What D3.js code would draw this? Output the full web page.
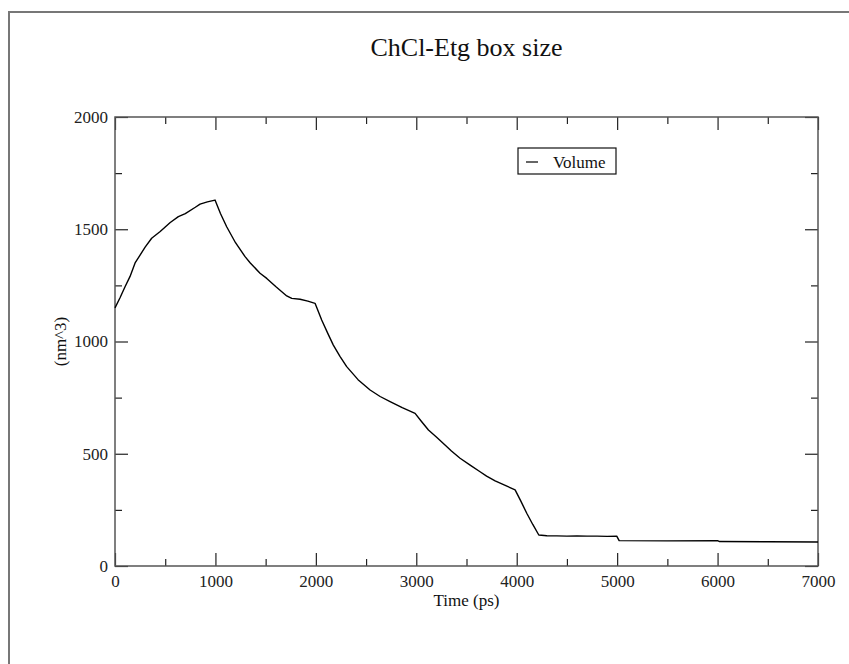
<!DOCTYPE html>
<html>
<head>
<meta charset="utf-8">
<script src="https://cdn.jsdelivr.net/npm/d3@7"></script>
<style>
  body { margin: 0; background: #fff; overflow: hidden; }
  svg { display: block; font-family: "Liberation Serif", "Times New Roman", serif; }
</style>
</head>
<body>
<div id="chart"></div>
<script>
// volume of the simulation box over time
var times = [0, 50, 100, 150, 200, 300, 365, 450, 550, 631, 700, 800, 847, 920, 996,
  1050, 1112, 1200, 1295, 1345, 1444, 1511, 1600, 1710, 1760, 1843, 1920, 1992,
  2058, 2120, 2174, 2240, 2307, 2420, 2540, 2640, 2739, 2860, 2988,
  3050, 3121, 3200, 3270, 3350, 3436, 3540, 3635, 3700, 3785, 3880, 3984,
  4040, 4100, 4160, 4220, 4300, 4400, 4500, 4600, 4700, 4800, 4900, 4996,
  5020, 5500, 6000, 6020, 6500, 7000];
var volumes = [1150, 1195, 1244, 1290, 1350, 1420, 1460, 1490, 1530, 1556, 1570, 1598, 1612, 1622, 1630,
  1570, 1511, 1440, 1378, 1351, 1304, 1281, 1245, 1203, 1192, 1188, 1180, 1170,
  1096, 1035, 984, 934, 888, 830, 784, 755, 732, 705, 680,
  645, 606, 575, 546, 512, 480, 448, 420, 400, 379, 360, 339,
  290, 235, 185, 138, 135, 134, 133, 134, 133, 133, 132, 133,
  113, 112, 113, 109, 108, 107];

var xMajor = [0, 1000, 2000, 3000, 4000, 5000, 6000, 7000];
var xMinor = [500, 1500, 2500, 3500, 4500, 5500, 6500];
var yMajor = [0, 500, 1000, 1500, 2000];
var yMinor = [250, 750, 1250, 1750];

var title = 'ChCl-Etg box size';
var xTitle = 'Time (ps)';
var yTitle = '(nm^3)';
var seriesName = 'Volume';

var width = 849, height = 664;
var margin = {left: 115, top: 117, right: 31, bottom: 98};
var w = width - margin.left - margin.right,
    h = height - margin.top - margin.bottom;

var svg = d3.select('#chart').append('svg')
  .attr('width', width)
  .attr('height', height)
  .style('overflow', 'hidden');

// page frame (runs off the right and bottom edges)
svg.append('rect')
  .attr('x', 9).attr('y', 12)
  .attr('width', width + 100).attr('height', height + 100)
  .attr('fill', 'none')
  .attr('stroke', '#777')
  .attr('stroke-width', 2);

var x = d3.scaleLinear().domain([0, 7000]).range([0, w]);
var y = d3.scaleLinear().domain([0, 2000]).range([h, 0]);

var g = svg.append('g').attr('transform', 'translate(' + margin.left + ',' + margin.top + ')');

function styleAxis(sel) {
  sel.select('.domain').remove();
  sel.selectAll('line').attr('stroke', '#222').attr('stroke-width', 1.2);
  sel.selectAll('text').attr('fill', '#222').style('font-size', '17px')
    .style('font-family', '"Liberation Serif", serif');
}

// major ticks with labels (inward)
g.append('g').attr('transform', 'translate(0,' + h + ')')
  .call(d3.axisBottom(x).tickValues(xMajor).tickFormat(d3.format('d')).tickSizeInner(-13).tickSizeOuter(0).tickPadding(9))
  .call(styleAxis);
g.append('g')
  .call(d3.axisLeft(y).tickValues(yMajor).tickFormat(d3.format('d')).tickSizeInner(-13).tickSizeOuter(0).tickPadding(7))
  .call(styleAxis);
// mirrored ticks on top and right
g.append('g')
  .call(d3.axisTop(x).tickValues(xMajor).tickFormat('').tickSizeInner(-13).tickSizeOuter(0))
  .call(styleAxis);
g.append('g').attr('transform', 'translate(' + w + ',0)')
  .call(d3.axisRight(y).tickValues(yMajor).tickFormat('').tickSizeInner(-13).tickSizeOuter(0))
  .call(styleAxis);
// minor ticks
g.append('g').attr('transform', 'translate(0,' + h + ')')
  .call(d3.axisBottom(x).tickValues(xMinor).tickFormat('').tickSizeInner(-7).tickSizeOuter(0))
  .call(styleAxis);
g.append('g')
  .call(d3.axisTop(x).tickValues(xMinor).tickFormat('').tickSizeInner(-7).tickSizeOuter(0))
  .call(styleAxis);
g.append('g')
  .call(d3.axisLeft(y).tickValues(yMinor).tickFormat('').tickSizeInner(-7).tickSizeOuter(0))
  .call(styleAxis);
g.append('g').attr('transform', 'translate(' + w + ',0)')
  .call(d3.axisRight(y).tickValues(yMinor).tickFormat('').tickSizeInner(-7).tickSizeOuter(0))
  .call(styleAxis);

// plot frame
g.append('rect')
  .attr('width', w).attr('height', h)
  .attr('fill', 'none')
  .attr('stroke', '#555')
  .attr('stroke-width', 1.5);

// the curve
var line = d3.line()
  .x(function(d, i) { return x(times[i]); })
  .y(function(d) { return y(d); });

g.append('path')
  .datum(volumes)
  .attr('d', line)
  .attr('fill', 'none')
  .attr('stroke', '#000')
  .attr('stroke-width', 1.4)
  .attr('stroke-linejoin', 'round');

// titles
svg.append('text')
  .attr('x', margin.left + w / 2).attr('y', 56)
  .attr('text-anchor', 'middle')
  .style('font-size', '26px')
  .attr('fill', '#111')
  .text(title);

svg.append('text')
  .attr('x', margin.left + w / 2).attr('y', 606)
  .attr('text-anchor', 'middle')
  .style('font-size', '17px')
  .attr('fill', '#111')
  .text(xTitle);

svg.append('text')
  .attr('transform', 'translate(66,' + (margin.top + h / 2) + ') rotate(-90)')
  .attr('text-anchor', 'middle')
  .style('font-size', '17px')
  .attr('fill', '#111')
  .text(yTitle);

// legend
var legend = svg.append('g').attr('transform', 'translate(518,148)');
legend.append('rect')
  .attr('width', 98).attr('height', 26)
  .attr('fill', '#fff')
  .attr('stroke', '#111')
  .attr('stroke-width', 1.2);
legend.append('line')
  .attr('x1', 8).attr('x2', 20)
  .attr('y1', 14).attr('y2', 14)
  .attr('stroke', '#000').attr('stroke-width', 1.2);
legend.append('text')
  .attr('x', 35).attr('y', 20)
  .style('font-size', '17px')
  .attr('fill', '#111')
  .text(seriesName);
</script>
</body>
</html>
